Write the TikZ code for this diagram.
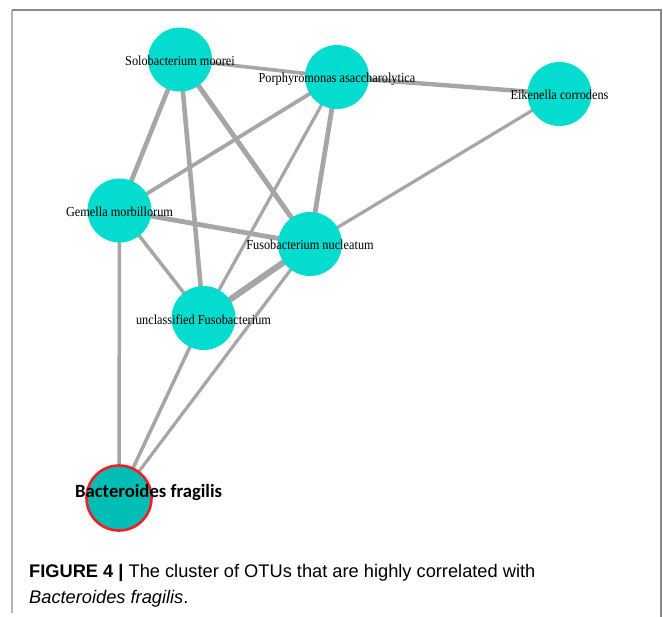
\documentclass[tikz,border=0pt]{standalone}
\usepackage{fontspec}
\setmainfont{Liberation Serif}
\newfontfamily\capfont{Liberation Sans}
\newfontfamily\calib{Carlito}
\usetikzlibrary{backgrounds}
\definecolor{nodecyan}{HTML}{03DCCF}
\definecolor{bfteal}{HTML}{00BDB6}
\definecolor{bfred}{HTML}{F21E24}
\definecolor{edgegray}{HTML}{A6A6A6}
\definecolor{framegray}{HTML}{8A8A8A}
\definecolor{framelight}{HTML}{B4B4B4}
\newcommand{\tallt}[1]{\scalebox{1}[1.12]{#1}}
\tikzset{
  otu/.style={circle, fill=nodecyan, draw=none, minimum size=64pt, inner sep=0pt},
  bfnode/.style={circle, fill=bfteal, draw=bfred, line width=2.6pt, minimum size=65pt, inner sep=0pt},
  otulabel/.style={anchor=base, inner sep=0pt, font=\fontsize{12.3}{14}\selectfont, yshift=-6pt},
  edge/.style={draw=edgegray, line cap=round},
  captext/.style={anchor=base west, inner sep=0pt, font=\capfont\fontsize{18.25}{20}\selectfont}
}
\begin{document}
\begin{tikzpicture}[x=1pt,y=-1pt]
\useasboundingbox (0,0) rectangle (663,617);
% frame
\draw[framelight, line width=1.2pt] (12,10) -- (12,613);
\draw[framegray, line width=1.2pt] (12,10) -- (661,10) -- (661,617);
% nodes
\node[otu] (s) at (180,59.5) {};
\node[otu] (p) at (337,77) {};
\node[otu] (e) at (559.5,94) {};
\node[otu] (g) at (119.5,210.5) {};
\node[otu] (f) at (310,244) {};
\node[otu] (u) at (203.5,318) {};
\node[bfnode] (b) at (119,498) {};
% edges
\begin{pgfonlayer}{background}
\draw[edge, line width=3.6pt] (s.center) -- (p.center);
\draw[edge, line width=4.4pt] (p.center) -- (e.center);
\draw[edge, line width=4.6pt] (s.center) -- (g.center);
\draw[edge, line width=4.6pt] (s.center) -- (u.center);
\draw[edge, line width=5pt] (s.center) -- (f.center);
\draw[edge, line width=3.8pt] (p.center) -- (g.center);
\draw[edge, line width=3.2pt] (p.center) -- (u.center);
\draw[edge, line width=4.8pt] (p.center) -- (f.center);
\draw[edge, line width=3.2pt] (e.center) -- (f.center);
\draw[edge, line width=4.8pt] (g.center) -- (f.center);
\draw[edge, line width=3.5pt] (g.center) -- (u.center);
\draw[edge, line width=3.5pt] (g.center) -- (b.center);
\draw[edge, line width=6.2pt] (u.center) -- (f.center);
\draw[edge, line width=3.5pt] (u.center) -- (b.center);
\draw[edge, line width=3.2pt] (f.center) -- (b.center);
\end{pgfonlayer}
% labels
\node[otulabel] (ls) at (s.center) {\tallt{Solobacterium moorei}};
\node[otulabel] (lp) at (p.center) {\tallt{Porphyromonas asaccharolytica}};
\node[otulabel] (le) at (e.center) {\tallt{Eikenella corrodens}};
\node[otulabel] (lg) at (g.center) {\tallt{Gemella morbillorum}};
\node[otulabel] (lf) at (f.center) {\tallt{Fusobacterium nucleatum}};
\node[otulabel] (lu) at (u.center) {\tallt{unclassified Fusobacterium}};
\node[anchor=base west, inner sep=0pt, font=\calib\bfseries\fontsize{18.7}{20}\selectfont] (lb) at (75,497) {Bacteroides fragilis};
% caption
\node[captext] (cap1) at (29,577) {\textbf{FIGURE 4 |} The cluster of OTUs that are highly correlated with};
\node[captext] (cap2) at (29,603) {\textit{Bacteroides fragilis}.};
\end{tikzpicture}
\end{document}
